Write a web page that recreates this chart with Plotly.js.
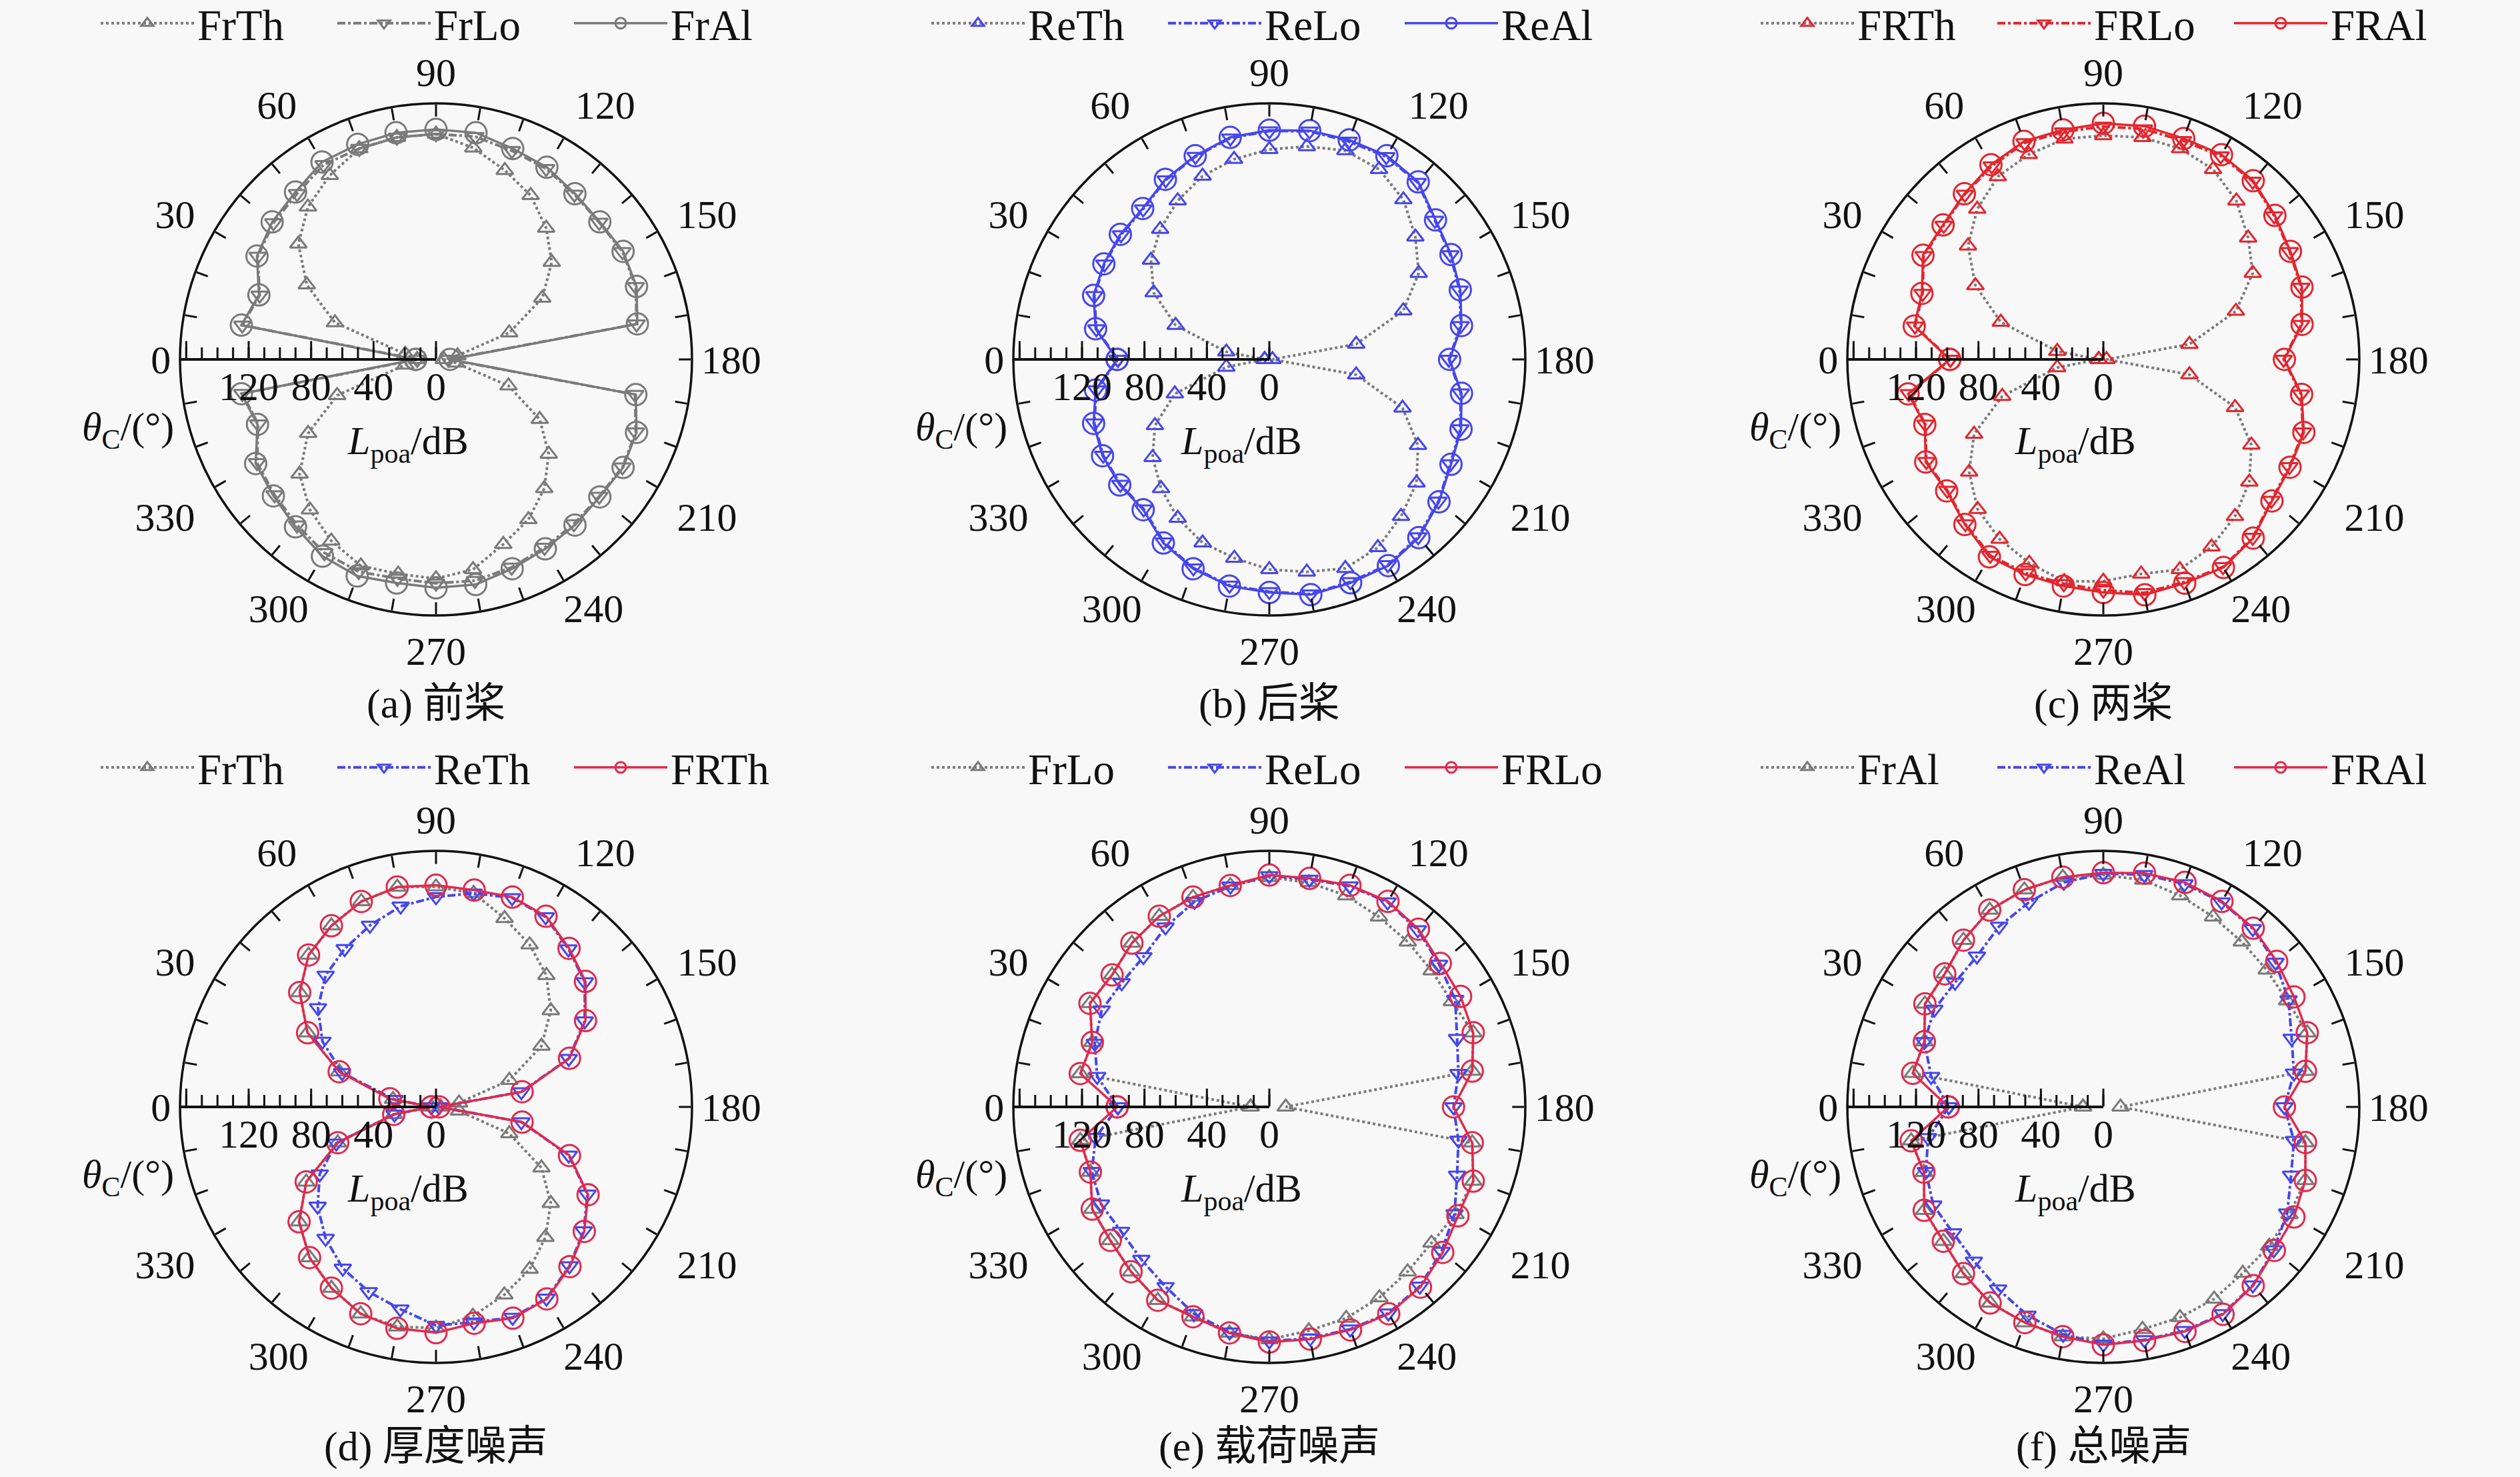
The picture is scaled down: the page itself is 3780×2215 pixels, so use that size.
<!DOCTYPE html>
<html>
<head>
<meta charset="utf-8">
<script src="https://cdn.plot.ly/plotly-3.0.1.min.js"></script>
<style>
  html, body { margin: 0; padding: 0; background: #f8f8f8; }
  #chart { width: 3780px; height: 2215px; }
</style>
</head>
<body>
<div id="chart"></div>
<script>
// ---- data: noise level Lpoa (dB) vs observer angle θC (deg) ----
const THETA = [0, 10, 20, 30, 40, 50, 60, 70, 80, 90, 100, 110, 120, 130, 140, 150, 160, 170, 180,
               190, 200, 210, 220, 230, 240, 250, 260, 270, 280, 290, 300, 310, 320, 330, 340, 350, 360];

// (a) front propeller
const aFrTh = [12, 20, 68.9, 95.6, 115.1, 127.6, 136.1, 143.7, 144.4, 144.4, 137.6, 128.9, 121.3, 109.8, 96.8, 78.6, 49.9, 14, 5,
               13, 49.4, 76.7, 94.3, 107.9, 118.4, 126, 136.6, 140.4, 139.5, 140.7, 134.2, 125.7, 114.1, 94.6, 67.4, 20, 12];
const aFrLo = [12, 126, 120.2, 131.9, 136, 138.5, 144, 143.7, 144.4, 144.4, 144.9, 142.2, 141.1, 138, 136.5, 137.9, 136.2, 130.5, 8,
               129.5, 136.2, 137.9, 136.5, 137.5, 139.1, 141.7, 143.9, 143.4, 142.5, 144.7, 143, 138.5, 135, 132.4, 121.2, 126, 12];
const aFrAl = [13, 126.6, 120.7, 132.4, 137, 140, 146, 146.6, 147.4, 147.3, 147.4, 143.7, 142.1, 138.5, 137, 138.4, 136.7, 131, 9,
               130, 136.7, 138.4, 137, 138.5, 140.1, 142.7, 146.4, 146.3, 145.4, 147.6, 145.5, 140, 136, 133.4, 121.7, 126.6, 13];

// (b) rear propeller
const bReTh = [3, 28, 63.9, 85.6, 99, 108.8, 117.4, 125, 130.2, 134.5, 138.5, 142.4, 140.6, 133.6, 122.1, 110.5, 91.3, 56.5, 2,
               56.5, 90.8, 110, 123.1, 131.2, 139.1, 142.4, 138.2, 134.5, 129.2, 125, 117.4, 107.9, 97.6, 84.6, 64.4, 28, 3];
const bReLo = [97, 112.5, 119.3, 122, 124.1, 125.7, 132.7, 138.3, 143.9, 146.3, 148.4, 148.6, 149.9, 147.9, 138.5, 133.9, 129.7, 124.5, 115,
               124.5, 130.2, 133.9, 141.4, 148.4, 151.9, 151.6, 152.6, 148.8, 146.9, 142.2, 135.1, 125.2, 124.6, 122.9, 119.3, 112.5, 97];
const bReAl = [97.5, 113, 119.8, 122.4, 124.6, 126.2, 133.2, 138.8, 144.4, 146.8, 148.8, 149.6, 150.6, 148.4, 139, 134.4, 130.2, 125, 115.5,
               125, 130.7, 134.4, 141.9, 149, 152.5, 152.3, 153, 149.3, 147.4, 142.7, 135.8, 125.7, 125.1, 123.4, 119.8, 113, 97.5];

// (c) both propellers
const cFRTh = [3, 30, 69.9, 94.6, 113.2, 125.7, 135.2, 139.7, 143.4, 143.4, 144.4, 143.7, 140.6, 132.6, 121.1, 110.5, 90.4, 56, 2,
               56, 89.8, 109.5, 122.1, 131.2, 138.6, 143.2, 139.5, 142, 144.4, 138.8, 132.9, 125.3, 112.2, 95.6, 68.9, 30, 3];
const cFRLo = [98, 122.5, 123.2, 132.9, 133.5, 138, 143, 147.6, 147.9, 149.3, 149.8, 149.1, 150.4, 148.9, 142.9, 137.9, 134.9, 128.8, 115.5,
               128.5, 136.2, 137.6, 140.5, 148.9, 153.4, 151.6, 151.8, 147.8, 145.9, 145.6, 145, 137.5, 130.5, 130.9, 121.3, 126.5, 98];
const cFRAl = [98.4, 123, 123.7, 133.4, 134, 138.5, 144, 148.6, 149.3, 151.2, 151.7, 150.6, 151.4, 149.4, 143.5, 138.4, 135.4, 129.3, 116,
               129, 136.7, 138.1, 141, 149.4, 153.9, 152.5, 153.1, 149.3, 147.4, 146.6, 146, 138, 131, 131.4, 121.7, 127, 98.4];

// (d) thickness noise
const dFrTh = [3, 28, 66, 95, 114, 127, 134, 140, 143, 141, 139, 128.5, 120, 110, 96, 78, 50, 15, 3,
               15, 50, 78, 96, 109, 120, 128, 136, 141.6, 143, 141, 134, 126, 114.5, 96, 67, 27.5, 3];
const dReTh = [3, 27, 64, 84, 98.7, 110, 117, 123.7, 130.5, 134.5, 139, 142.5, 140.5, 132, 124.5, 110, 90.5, 55.5, 2,
               55.5, 90.5, 112, 123.5, 133, 141.5, 143.5, 140, 140, 131.5, 126, 119.4, 110, 99, 86, 68, 27, 3];
const dFRTh = [3, 30, 66, 95, 114, 127, 134, 140, 143, 142, 141, 143, 141, 132.6, 125, 110.6, 91, 56, 2,
               56, 91, 112.5, 124, 133.5, 142, 144, 140.7, 144.6, 144, 141, 134, 126, 114.5, 96, 67, 27.5, 3];

// (e) loading noise
const eFrLo = [12, 123, 120.7, 132.7, 131.5, 137, 141, 143, 144, 147, 146, 144, 140.5, 138, 135.7, 135, 139, 132, 10.5,
               132, 139, 137.7, 135.6, 137.8, 141, 144, 145.5, 149, 147, 143, 143, 137.8, 133, 131, 122, 123, 12];
const eReLo = [97, 112, 119, 124, 123.5, 125.5, 133, 140, 143.5, 148, 148, 150.5, 151.5, 148, 142, 137.5, 128, 123, 118,
               123, 128, 137, 144, 150, 152.5, 151.5, 150.5, 150, 146.5, 141, 133, 127.6, 124, 124.5, 121, 113, 97];
const eFRLo = [97.5, 123, 120.7, 132.7, 131.5, 137, 141, 143, 144, 148.5, 148.6, 151, 152, 148.6, 143, 141.5, 139, 132, 118,
               132, 139, 139.5, 145, 150.6, 153, 152, 151, 150.6, 147, 143, 143, 137.8, 133, 131, 122, 123, 97.5];

// (f) total noise
const fFrAl = [13, 124, 122, 132, 132.6, 139.4, 145.6, 148, 149.4, 148.5, 147.6, 144, 140.6, 138, 136.6, 136, 139, 131.5, 11,
               131.5, 137.7, 137.7, 138.7, 139, 142, 143.5, 144.6, 148.5, 149.4, 147, 145, 139.4, 133.8, 132.5, 122.3, 125, 13];
const fReAl = [99, 112, 122, 125, 124, 126, 133.5, 139.4, 146, 149.5, 151, 152, 151.5, 149, 144, 137, 128.4, 124, 116,
               124, 128, 136, 142.5, 149, 153, 152.5, 151.5, 152, 148, 142, 134.8, 129, 125.6, 125.8, 121, 114, 99];
const fFRAl = [99.3, 124, 122, 132, 132.6, 139.4, 145.6, 148, 149.4, 150, 152, 153, 152, 149.4, 145, 141, 139, 131.5, 116,
               131.5, 137.7, 141, 143, 149.4, 153.4, 153, 152, 152.4, 149.4, 147, 145, 139.4, 133.8, 132.5, 122.3, 125, 99.3];

// ticks
const ANG_TICKS = [0, 10, 20, 30, 40, 50, 60, 70, 80, 90, 100, 110, 120, 130, 140, 150, 160, 170,
                   180, 190, 200, 210, 220, 230, 240, 250, 260, 270, 280, 290, 300, 310, 320, 330, 340, 350];
const ANG_LABELS = ['0', '', '', '', '', '', '', '', '', '90', '', '', '', '', '', '', '', '',
                    '180', '', '', '', '', '', '', '', '', '270', '', '', '', '', '', '', '', ''];
const ANG_DIAG_TICKS = [30, 60, 120, 150, 210, 330];
const ANG_DIAG_LABELS = ['30', '60', '120', '150', '210', '330'];
const ANG_LOW_TICKS = [240, 300];
const ANG_LOW_LABELS = ['240', '300'];
const RAD_TICKS = [0, 10, 20, 30, 40, 50, 60, 70, 80, 90, 100, 110, 120, 130, 140, 150, 160];
const RAD_MAJOR = [0, 40, 80, 120, 160];
const RAD_LABEL_VALS = [0, 40, 80, 120];
const RAD_LABELS = ['0', '40', '80', '120'];

const CAPTIONS = ['(a) 前桨', '(b) 后桨', '(c) 两桨', '(d) 厚度噪声', '(e) 载荷噪声', '(f) 总噪声'];

// ---- styling ----
const W = 3780, H = 2215, R = 384, RMAX = 164;
const CX = [654, 1904, 3155];
const CY = [539, 1660];
const CAP_Y = [1055, 2169];
const LEG_X = [146, 1392, 2636];
const LEG_Y = [-14, 1102];
const FONT = 'Liberation Serif, "Noto Sans CJK SC", serif';
const GRAY = '#7a7a7a', BLUE = '#4646ee', RED = '#e3262f', RED2 = '#e2294c';
const INK = '#111';
const ITEM_W = 140;
const TICK_FONT = { size: 60, family: FONT, color: INK };

function series(r, name, sub, leg, kind, color, lineColor) {
    const sym = kind === 'th' ? 'triangle-up-open' : kind === 'lo' ? 'triangle-down-open' : 'circle-open';
    const dash = kind === 'th' ? 'dot' : kind === 'lo' ? 'dashdot' : 'solid';
    return {
        type: 'scatterpolar', mode: 'lines+markers', name: name,
        r: r, theta: THETA, subplot: sub, legend: leg,
        line: { color: lineColor || color, width: kind === 'al' ? 3.5 : 4, dash: dash },
        marker: { symbol: sym, size: kind === 'al' ? 32 : 22, color: color, line: { color: color, width: 3 } },
        hoverinfo: 'skip',
    };
}

const traces = [
    series(aFrTh, 'FrTh', 'polar', 'legend', 'th', GRAY, GRAY),
    series(aFrLo, 'FrLo', 'polar', 'legend', 'lo', GRAY),
    series(aFrAl, 'FrAl', 'polar', 'legend', 'al', GRAY),
    series(bReTh, 'ReTh', 'polar2', 'legend2', 'th', BLUE, GRAY),
    series(bReLo, 'ReLo', 'polar2', 'legend2', 'lo', BLUE),
    series(bReAl, 'ReAl', 'polar2', 'legend2', 'al', BLUE),
    series(cFRTh, 'FRTh', 'polar3', 'legend3', 'th', RED, GRAY),
    series(cFRLo, 'FRLo', 'polar3', 'legend3', 'lo', RED),
    series(cFRAl, 'FRAl', 'polar3', 'legend3', 'al', RED),
    series(dFrTh, 'FrTh', 'polar4', 'legend4', 'th', GRAY, GRAY),
    series(dReTh, 'ReTh', 'polar4', 'legend4', 'lo', BLUE),
    series(dFRTh, 'FRTh', 'polar4', 'legend4', 'al', RED2),
    series(eFrLo, 'FrLo', 'polar5', 'legend5', 'th', GRAY, GRAY),
    series(eReLo, 'ReLo', 'polar5', 'legend5', 'lo', BLUE),
    series(eFRLo, 'FRLo', 'polar5', 'legend5', 'al', RED2),
    series(fFrAl, 'FrAl', 'polar6', 'legend6', 'th', GRAY, GRAY),
    series(fReAl, 'ReAl', 'polar6', 'legend6', 'lo', BLUE),
    series(fFRAl, 'FRAl', 'polar6', 'legend6', 'al', RED2),
];

const layout = {
    width: W, height: H,
    margin: { l: 0, r: 0, t: 0, b: 0, autoexpand: false },
    paper_bgcolor: '#f8f8f8',
    font: { family: FONT, size: 60, color: INK },
    annotations: [],
};

function domainFor(cx, cy, rad) {
    return {
        x: [(cx - rad) / W, (cx + rad) / W],
        y: [1 - (cy + rad) / H, 1 - (cy - rad) / H],
    };
}

// label-only overlay: frame of radius `rad` (radial scale kept equal to the main frame)
function labelOverlay(cx, cy, rad, angVals, angText, radVals, radText) {
    return {
        domain: domainFor(cx, cy, rad), bgcolor: 'rgba(0,0,0,0)',
        angularaxis: angVals
            ? { rotation: 180, direction: 'clockwise', tickvals: angVals, ticktext: angText,
                ticks: '', showline: false, showgrid: false, tickfont: TICK_FONT }
            : { visible: false, rotation: 180, direction: 'clockwise' },
        radialaxis: radVals
            ? { range: [0, RMAX * rad / R], angle: 180, side: 'counterclockwise',
                tickvals: radVals, ticktext: radText, tickangle: 180,
                ticks: '', showline: false, showgrid: false, tickfont: TICK_FONT }
            : { range: [0, RMAX * rad / R], visible: false },
    };
}

for (let i = 0; i < 6; i++) {
    const col = i % 3, row = Math.floor(i / 3);
    const cx = CX[col], cy = CY[row];
    const n = i === 0 ? '' : String(i + 1);

    // main subplot: outer circle, angular ticks, radial ruler with minor ticks
    layout['polar' + n] = {
        domain: domainFor(cx, cy, R), bgcolor: 'rgba(0,0,0,0)',
        radialaxis: {
            range: [0, RMAX], angle: 180, side: 'counterclockwise',
            tickvals: RAD_TICKS, showticklabels: false,
            ticks: 'inside', ticklen: 16, tickwidth: 3, tickcolor: INK,
            showline: true, linecolor: INK, linewidth: 4, showgrid: false,
        },
        angularaxis: {
            rotation: 180, direction: 'clockwise',
            tickvals: ANG_TICKS, ticktext: ANG_LABELS,
            ticks: 'inside', ticklen: 18, tickwidth: 3, tickcolor: INK,
            showline: true, linecolor: INK, linewidth: 3.5, showgrid: false,
            tickfont: TICK_FONT,
        },
    };

    // overlay: the longer major ticks of the radial ruler
    layout['polar' + (i + 7)] = {
        domain: domainFor(cx, cy, R), bgcolor: 'rgba(0,0,0,0)',
        angularaxis: { visible: false, rotation: 180, direction: 'clockwise' },
        radialaxis: {
            range: [0, RMAX], angle: 180, side: 'counterclockwise',
            tickvals: RAD_MAJOR, showticklabels: false,
            ticks: 'inside', ticklen: 27, tickwidth: 3, tickcolor: INK,
            showline: false, showgrid: false,
        },
    };

    // overlays that only place labels
    layout['polar' + (i + 13)] = labelOverlay(cx, cy, 417, ANG_DIAG_TICKS, ANG_DIAG_LABELS);
    layout['polar' + (i + 19)] = labelOverlay(cx, cy, 382, ANG_LOW_TICKS, ANG_LOW_LABELS);
    layout['polar' + (i + 25)] = labelOverlay(cx, cy - 12, R, null, null, RAD_LABEL_VALS, RAD_LABELS);

    for (const k of [7, 13, 19, 25]) {
        traces.push({ type: 'scatterpolar', r: [], theta: [], subplot: 'polar' + (i + k), showlegend: false, hoverinfo: 'skip' });
    }

    layout['legend' + n] = {
        x: LEG_X[col] / W, y: 1 - LEG_Y[row] / H, xanchor: 'left', yanchor: 'top',
        orientation: 'h', bgcolor: 'rgba(0,0,0,0)',
        font: { size: 65, family: FONT, color: INK },
        itemwidth: ITEM_W, entrywidth: 350 - ITEM_W - 10, entrywidthmode: 'pixels', tracegroupgap: 0,
    };

    layout.annotations.push(
        { text: '<i>θ</i><sub>C</sub>/(°)', x: (cx - 462) / W, y: 1 - (cy + 105) / H, xref: 'paper', yref: 'paper',
          showarrow: false, xanchor: 'center', yanchor: 'middle', font: { size: 60, family: FONT } },
        { text: '<i>L</i><sub>poa</sub>/dB', x: (cx - 42) / W, y: 1 - (cy + 126) / H, xref: 'paper', yref: 'paper',
          showarrow: false, xanchor: 'center', yanchor: 'middle', font: { size: 60, family: FONT } },
        { text: CAPTIONS[i], x: cx / W, y: 1 - CAP_Y[row] / H, xref: 'paper', yref: 'paper',
          showarrow: false, xanchor: 'center', yanchor: 'middle', font: { size: 62, family: FONT } }
    );
}

Plotly.newPlot('chart', traces, layout, { staticPlot: true });
</script>
</body>
</html>
